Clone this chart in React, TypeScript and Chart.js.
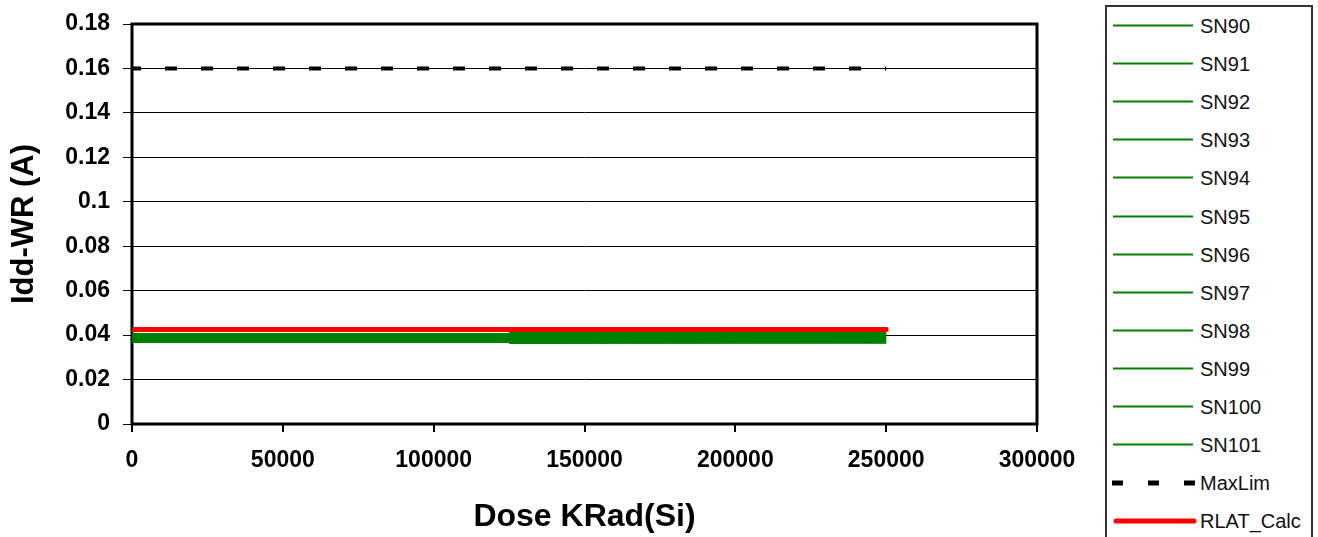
import React, { useEffect, useRef } from "react";
import { Chart, registerables } from "chart.js";

Chart.register(...registerables);

// ---- data ----
const doses = [0, 125000, 250000];

const seriesNames = [
  "SN90", "SN91", "SN92", "SN93", "SN94", "SN95",
  "SN96", "SN97", "SN98", "SN99", "SN100", "SN101",
];

const sn90 = [null, 0.0365, 0.0366];
const sn91 = [0.0369, 0.0369, 0.0368];
const sn92 = [0.0373, 0.0373, 0.0372];
const sn93 = [0.0377, 0.0377, 0.0377];
const sn94 = [0.0381, 0.0381, 0.0380];
const sn95 = [0.0385, 0.0385, 0.0385];
const sn96 = [0.0389, 0.0389, 0.0389];
const sn97 = [0.0393, 0.0393, 0.0394];
const sn98 = [0.0397, 0.0397, 0.0398];
const sn99 = [0.0401, 0.0401, 0.0401];
const sn100 = [0.0405, 0.0405, 0.0405];
const sn101 = [null, 0.0410, 0.0409];

const snValues = [sn90, sn91, sn92, sn93, sn94, sn95, sn96, sn97, sn98, sn99, sn100, sn101];

const maxLim = [0.16, 0.16, 0.16];
const rlatCalc = [0.0425, 0.0425, 0.0425];

const xTickLabels = ["0", "50000", "100000", "150000", "200000", "250000", "300000"];
const yTickLabels = ["0", "0.02", "0.04", "0.06", "0.08", "0.1", "0.12", "0.14", "0.16", "0.18"];

const FONT = "'Liberation Sans', Arial, sans-serif";
const GREEN = "#008000";
const RED = "#ff0000";

const toPoints = (vals: (number | null)[]) =>
  doses.map((d, i) => ({ x: d, y: vals[i] }));

const framePlugin = {
  id: "frame",
  beforeDatasetsDraw(chart: any) {
    const { ctx, chartArea } = chart;
    const { left, top, right, bottom } = chartArea;
    ctx.save();
    ctx.strokeStyle = "#000";
    ctx.lineWidth = 3;
    ctx.strokeRect(left, top, right - left, bottom - top);
    ctx.restore();
  },
};

export default function App() {
  const canvasRef = useRef<HTMLCanvasElement | null>(null);

  useEffect(() => {
    if (!canvasRef.current) return;
    const datasets: any[] = [];
    snValues.forEach((vals, i) => {
      datasets.push({
        label: seriesNames[i],
        data: toPoints(vals),
        borderColor: GREEN,
        backgroundColor: GREEN,
        borderWidth: 2,
        pointRadius: 0,
        tension: 0,
        spanGaps: false,
        order: 2,
      });
    });
    datasets.push({
      label: "MaxLim",
      data: toPoints(maxLim),
      borderColor: "#000",
      backgroundColor: "#000",
      borderWidth: 4,
      borderDash: [12, 24],
      borderDashOffset: 3,
      pointRadius: 0,
      order: 1,
    });
    datasets.push({
      label: "RLAT_Calc",
      data: toPoints(rlatCalc),
      borderColor: RED,
      backgroundColor: RED,
      borderWidth: 5,
      borderCapStyle: "round",
      pointRadius: 0,
      order: 0,
    });

    const chart = new Chart(canvasRef.current, {
      type: "line",
      data: { datasets },
      plugins: [framePlugin],
      options: {
        animation: false,
        responsive: false,
        events: [],
        layout: { padding: { left: 0, top: 24, right: 53, bottom: 0 } },
        plugins: {
          legend: { display: false },
          tooltip: { enabled: false },
        },
        scales: {
          x: {
            type: "linear",
            min: 0,
            max: 300000,
            ticks: {
              stepSize: 50000,
              autoSkip: false,
              maxRotation: 0,
              padding: 15,
              color: "#000",
              font: { family: FONT, size: 23, weight: "bold" },
              callback: (v: any) => {
                const f = xTickLabels.find((l) => Number(l) === Number(v));
                return f ?? "";
              },
            },
            grid: {
              drawOnChartArea: false,
              drawTicks: true,
              tickLength: 8,
              color: "#000",
              lineWidth: 2,
            },
            border: { display: false },
            title: {
              display: true,
              text: "Dose KRad(Si)",
              color: "#000",
              font: { family: FONT, size: 32, weight: "bold" },
              padding: { top: 0, bottom: 1 },
            },
            afterFit: (s: any) => {
              s.height = 113;
              s.paddingLeft = 0;
              s.paddingRight = 0;
            },
          },
          y: {
            type: "linear",
            min: 0,
            max: 0.18,
            ticks: {
              stepSize: 0.02,
              autoSkip: false,
              padding: 13,
              color: "#000",
              font: { family: FONT, size: 23, weight: "bold" },
              callback: (v: any) => {
                const f = yTickLabels.find((l) => Math.abs(Number(l) - Number(v)) < 1e-9);
                return f ?? "";
              },
            },
            grid: {
              drawOnChartArea: true,
              drawTicks: true,
              tickLength: 9,
              color: "#000",
              lineWidth: 1,
            },
            border: { display: false },
            title: {
              display: true,
              text: "Idd-WR (A)",
              color: "#000",
              font: { family: FONT, size: 31, weight: "bold" },
              padding: { top: 6, bottom: 0 },
            },
            afterFit: (s: any) => {
              s.width = 132;
              s.paddingTop = 0;
              s.paddingBottom = 0;
            },
          },
        },
      } as any,
    });
    return () => chart.destroy();
  }, []);

  const legendItems = [
    ...seriesNames.map((n) => ({ name: n, kind: "green" })),
    { name: "MaxLim", kind: "dash" },
    { name: "RLAT_Calc", kind: "red" },
  ];

  return (
    <div
      style={{
        position: "absolute",
        left: 0,
        top: 0,
        width: 1318,
        height: 537,
        background: "#fff",
        overflow: "hidden",
      }}
    >
      <canvas
        ref={canvasRef}
        width={1090}
        height={537}
        style={{ position: "absolute", left: 0, top: 0, width: 1090, height: 537 }}
      />
      <div
        style={{
          position: "absolute",
          left: 1105,
          top: 5,
          width: 208,
          height: 560,
          border: "2px solid #333",
          boxSizing: "border-box",
        }}
      />
      {legendItems.map((it, i) => {
        const yc = 26 + i * 38.1;
        return (
          <React.Fragment key={it.name}>
            <svg
              width={90}
              height={12}
              style={{ position: "absolute", left: 1110, top: yc - 6 }}
            >
              {it.kind === "green" && (
                <line x1={3} y1={5.5} x2={83} y2={5.5} stroke={GREEN} strokeWidth={2} />
              )}
              {it.kind === "dash" && (
                <line x1={2} y1={6} x2={86} y2={6} stroke="#000" strokeWidth={5} strokeDasharray="11 25" />
              )}
              {it.kind === "red" && (
                <line x1={6} y1={6} x2={84} y2={6} stroke={RED} strokeWidth={5} strokeLinecap="round" />
              )}
            </svg>
            <div
              style={{
                position: "absolute",
                left: 1200,
                top: yc - 11,
                height: 22,
                lineHeight: "22px",
                fontFamily: FONT,
                fontSize: 20,
                color: "#111",
                whiteSpace: "nowrap",
              }}
            >
              {it.name}
            </div>
          </React.Fragment>
        );
      })}
    </div>
  );
}
